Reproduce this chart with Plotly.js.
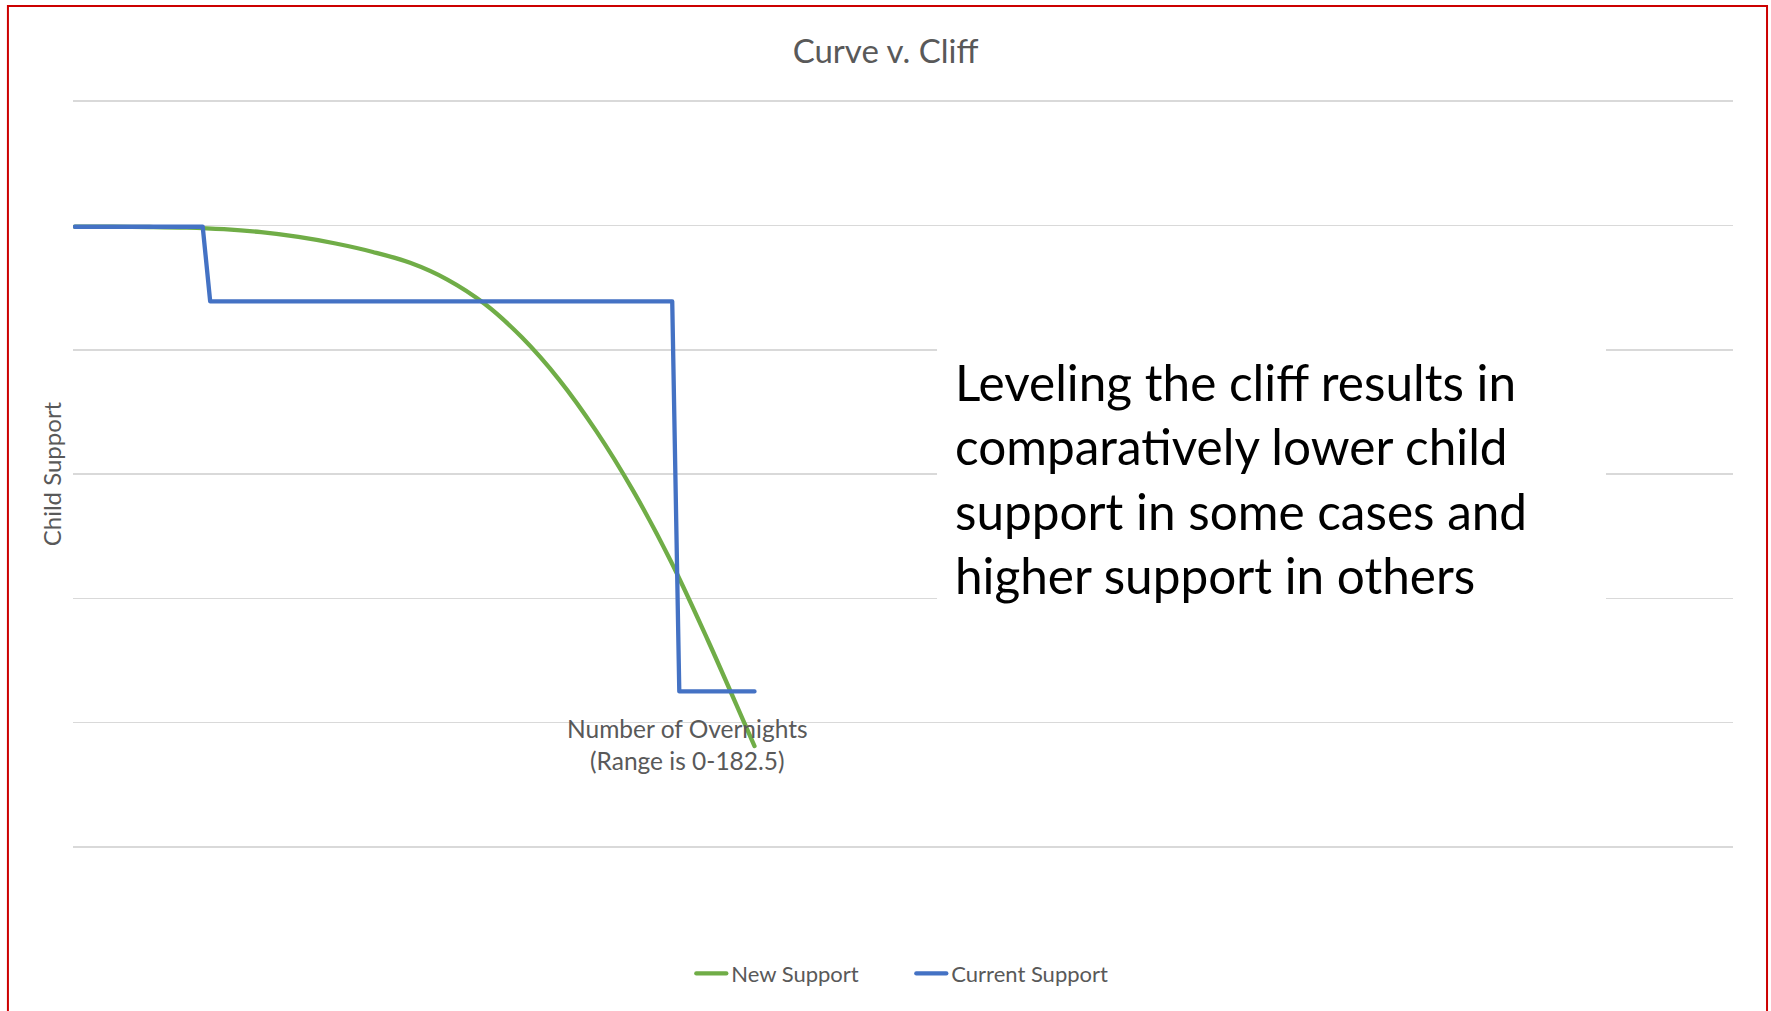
<!DOCTYPE html>
<html>
<head>
<meta charset="utf-8">
<script src="https://cdn.plot.ly/plotly-3.0.1.min.js"></script>
<style>
  html, body { margin: 0; padding: 0; background: #ffffff; }
  #chart { width: 1771px; height: 1011px; }
  #chart path.js-line { stroke-linejoin: round; stroke-linecap: round; }
</style>
</head>
<body>
<div id="chart"></div>
<script>
// ---- Data ----
const seriesNames = ["New Support", "Current Support"];

// New Support: smooth curve (number of overnights vs. child support, relative units)
const newOvernights = [0, 10, 20, 30, 40, 50, 60, 70, 80, 90, 100, 110, 120, 130, 140, 150, 160, 170, 180, 182.5];
const newSupport    = [4.99, 4.99, 4.988, 4.983, 4.97, 4.946, 4.908, 4.855, 4.787, 4.70, 4.565, 4.37, 4.10, 3.76, 3.345, 2.86, 2.30, 1.66, 0.98, 0.81];

// Current Support: step ("cliff") function
const currentOvernights = [0, 34.3, 36.3, 160.4, 162.3, 182.5];
const currentSupport    = [4.99, 4.99, 4.39, 4.39, 1.25, 1.25];

const chartTitle = "Curve v. Cliff";
const yTitle = "Child Support";
const xTitleLines = ["Number of Overnights", "(Range is 0-182.5)"];
const noteLines = [
  "Leveling the cliff results in",
  "comparatively lower child",
  "support in some cases and",
  "higher support in others"
];

// ---- Chart ----
const traces = [
  {
    x: newOvernights, y: newSupport, name: seriesNames[0],
    type: "scatter", mode: "lines",
    line: { color: "#70AD47", width: 4.3, shape: "spline", smoothing: 1 }
  },
  {
    x: currentOvernights, y: currentSupport, name: seriesNames[1],
    type: "scatter", mode: "lines",
    line: { color: "#4472C4", width: 4.3 }
  }
];

const layout = {
  width: 1771, height: 1011,
  margin: { l: 73, r: 38, t: 100, b: 163 },
  paper_bgcolor: "#ffffff", plot_bgcolor: "#ffffff",
  font: { family: "Lato, 'Open Sans', sans-serif", color: "#595959", size: 21 },
  title: {
    text: chartTitle,
    font: { family: "Lato, sans-serif", size: 33, color: "#595959" },
    x: 0.5, xanchor: "center",
    y: 1 - 51 / 1011, yanchor: "middle", yref: "container"
  },
  xaxis: {
    range: [-0.54, 445.3],
    showgrid: false, zeroline: false, showline: false,
    showticklabels: false, ticks: ""
  },
  yaxis: {
    range: [-0.01, 6.01], tick0: 0, dtick: 1,
    showgrid: true, gridcolor: "#d9d9d9", gridwidth: 1.5,
    zeroline: false, showline: false, showticklabels: false, ticks: "",
    title: { text: yTitle, font: { size: 24, color: "#595959" }, standoff: 3 }
  },
  showlegend: true,
  legend: {
    orientation: "h",
    x: 0.505, xanchor: "center",
    y: -0.168, yanchor: "middle",
    font: { size: 22, color: "#595959" },
    entrywidth: 175, entrywidthmode: "pixels",
    bgcolor: "rgba(0,0,0,0)"
  },
  shapes: [
    // white text box behind the note (hides gridlines)
    { type: "rect", xref: "paper", yref: "paper",
      x0: 0.5205, x1: 0.9235, y0: 0.3115, y1: 0.6858,
      fillcolor: "#ffffff", line: { width: 0 }, layer: "above" },
    // red outer frame
    { type: "rect", xref: "paper", yref: "paper",
      x0: -0.0392, x1: 1.0205, y0: -0.25, y1: 1.1257,
      line: { color: "#CC0000", width: 2 }, fillcolor: "rgba(0,0,0,0)", layer: "above" }
  ],
  annotations: [
    {
      text: xTitleLines.join("<br>"),
      xref: "paper", yref: "paper", x: 0.3699, y: 0.139,
      xanchor: "center", yanchor: "middle", showarrow: false,
      font: { size: 24.5, color: "#595959" }, align: "center"
    },
    {
      text: noteLines.join("<br>"),
      xref: "paper", yref: "paper", x: 0.5303, y: 0.4937,
      xanchor: "left", yanchor: "middle", showarrow: false,
      font: { size: 49.5, color: "#000000", family: "Lato, sans-serif" }, align: "left"
    }
  ]
};

Plotly.newPlot("chart", traces, layout, { displayModeBar: false, staticPlot: true });
</script>
</body>
</html>
